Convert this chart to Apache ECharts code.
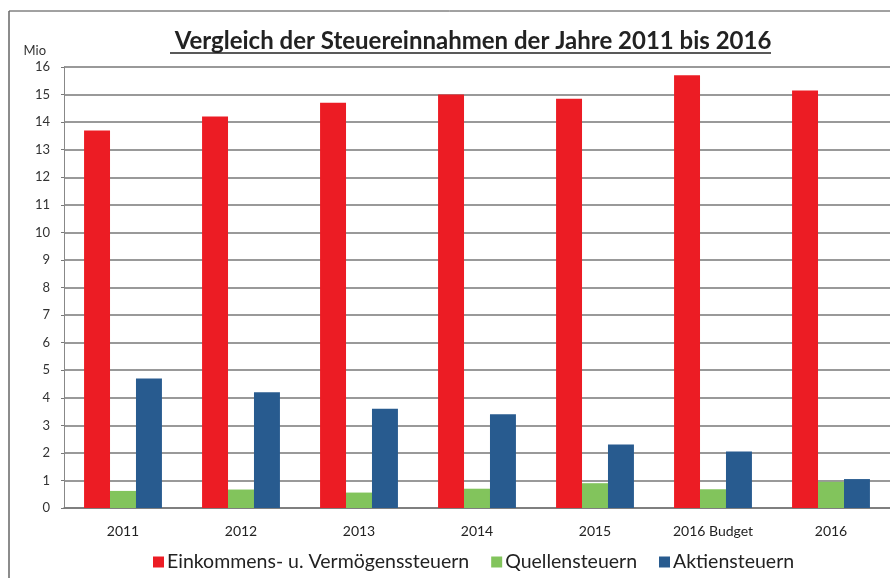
<!DOCTYPE html>
<html>
<head>
<meta charset="utf-8">
<script src="https://cdn.jsdelivr.net/npm/echarts@6/dist/echarts.min.js"></script>
<style>
  html, body { margin: 0; padding: 0; background: #fff; }
  #chart { width: 890px; height: 578px; }
</style>
</head>
<body>
<div id="chart"></div>
<script>
// Werte in Mio
const jahre = ['2011', '2012', '2013', '2014', '2015', '2016 Budget', '2016']
const einkommen = [13.7, 14.2, 14.7, 15.0, 14.85, 15.7, 15.15]
const quellen = [0.62, 0.67, 0.56, 0.7, 0.9, 0.68, 0.95]
const aktien = [4.7, 4.2, 3.6, 3.4, 2.3, 2.05, 1.05]
const serienNamen = ['Einkommens- u. Vermögenssteuern', 'Quellensteuern', 'Aktiensteuern']
const farben = ['#ec1c24', '#82c45c', '#285b8f']

const font = 'Lato, "Open Sans", sans-serif'
const chart = echarts.init(document.getElementById('chart'))

const option = {
  animation: false,
  color: farben,
  textStyle: { fontFamily: font },
  title: {
    text: 'Vergleich der Steuereinnahmen der Jahre 2011 bis 2016',
    left: 468,
    textAlign: 'center',
    top: 24,
    textStyle: { fontSize: 24, fontWeight: 'bold', color: '#222', fontFamily: font }
  },
  legend: {
    bottom: 1,
    left: 148,
    itemWidth: 11,
    itemHeight: 11,
    itemGap: 22,
    icon: 'rect',
    textStyle: { fontSize: 19.5, color: '#222', padding: [0, 0, 0, -2] },
    data: serienNamen
  },
  grid: { left: 64, right: 0, top: 67, bottom: 70 },
  xAxis: {
    type: 'category',
    data: jahre,
    axisLine: { lineStyle: { color: '#777', width: 1.5 } },
    axisTick: { show: false },
    axisLabel: { fontSize: 14, color: '#222', margin: 16 }
  },
  yAxis: {
    type: 'value',
    min: 0,
    max: 16,
    interval: 1,
    name: 'Mio',
    nameGap: 10,
    nameTextStyle: { align: 'right', padding: [0, 18, 0, 0], fontSize: 13, color: '#333' },
    axisLine: { show: true, lineStyle: { color: '#888' } },
    axisTick: { show: true, length: 3, lineStyle: { color: '#777' } },
    axisLabel: { fontSize: 13, color: '#333', margin: 14 },
    splitLine: { lineStyle: { color: '#777', width: 1.5 } }
  },
  graphic: [
    { type: 'line', shape: { x1: 9, y1: 11, x2: 890, y2: 11 }, style: { stroke: '#444', lineWidth: 1 } },
    { type: 'line', shape: { x1: 9, y1: 11, x2: 9, y2: 578 }, style: { stroke: '#666', lineWidth: 1.5 } },
    { type: 'line', shape: { x1: 170, y1: 53, x2: 771, y2: 53 }, style: { stroke: '#222', lineWidth: 1.5 } }
  ],
  series: [
    { name: serienNamen[0], type: 'bar', data: einkommen, barGap: '0%', barCategoryGap: '34%' },
    { name: serienNamen[1], type: 'bar', data: quellen },
    { name: serienNamen[2], type: 'bar', data: aktien }
  ]
}

chart.setOption(option)
window.addEventListener('resize', () => { chart.resize() })
</script>
</body>
</html>
